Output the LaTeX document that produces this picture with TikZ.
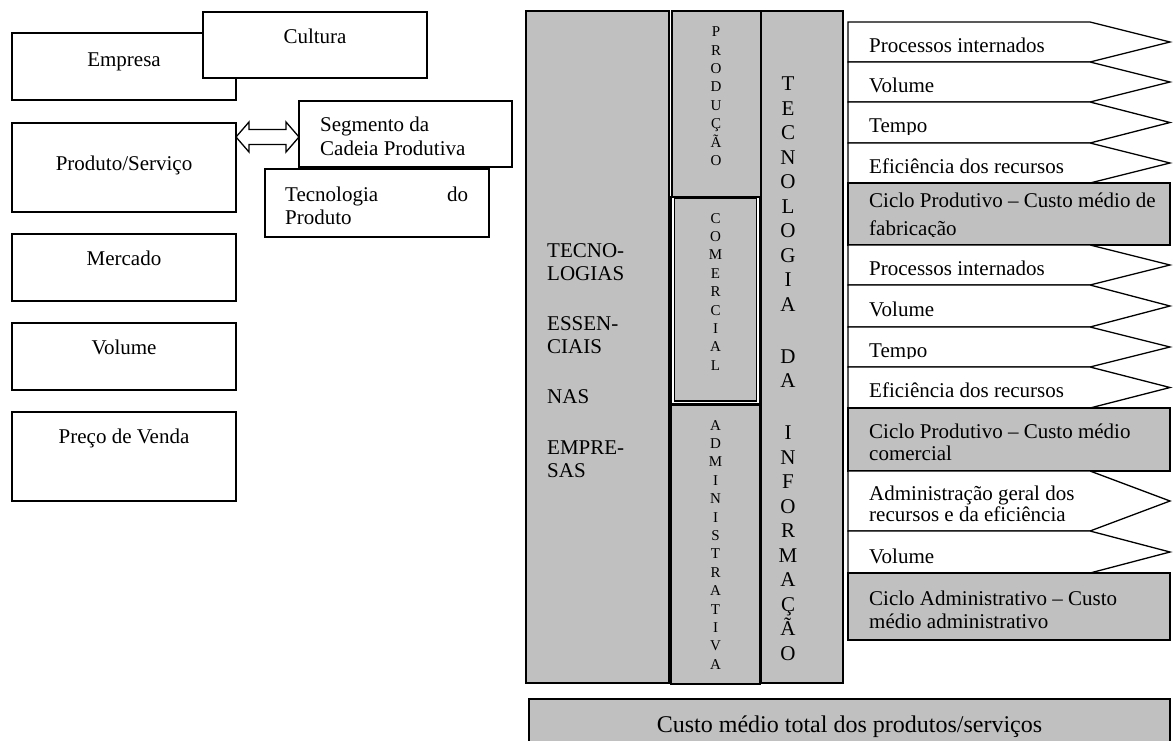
\documentclass[tikz,border=0pt]{standalone}
\usepackage{fontspec}
\setmainfont{Liberation Serif}
\usetikzlibrary{calc}
\definecolor{boxgray}{RGB}{192,192,192}
\newcommand\chevshape[2]{\draw[chev] (848,#1) -- (1090,#1) -- (1170,{(#1+#2)/2}) -- (1090,#2) -- (848,#2) -- cycle;}
\newcommand\rowclip[2]{\clip (846,#1) rectangle (1172,{#2-9});}
\begin{document}
\begin{tikzpicture}[x=1pt,y=-1pt,
  lbox/.style={draw=black,line width=1.6pt,fill=white,anchor=north west,inner sep=0pt,outer sep=0pt},
  colbox/.style={draw=black,line width=1.8pt,fill=boxgray},
  chev/.style={draw=black,line width=1.3pt,fill=white,line join=miter},
  gcell/.style={draw=black,line width=1.5pt,fill=boxgray},
  lbl/.style={font=\fontsize{21}{24}\selectfont,inner sep=0pt,anchor=base},
  lblw/.style={font=\fontsize{21}{24}\selectfont,inner sep=0pt,anchor=base west},
  vsmall/.style={font=\fontsize{15}{18.4}\selectfont,inner sep=0pt,anchor=north,align=center},
  vbig/.style={font=\fontsize{21}{24.5}\selectfont,inner sep=0pt,anchor=north,align=center},
  dblarrow/.style={draw=black,line width=1.3pt,fill=white,line join=miter}
]
\useasboundingbox (0,0) rectangle (1173,740);
\clip (0,0) rectangle (1173,740);
\fill[white] (0,0) rectangle (1173,740);

% ---------- left boxes ----------
\node[lbox,minimum width=224pt,minimum height=67pt] (empresa) at (12,33) {};
\node[lbox,minimum width=224pt,minimum height=66pt] (cultura) at (203,12) {};
\node[lbl] (empresaT) at (124,66) {Empresa};
\node[lbl] (culturaT) at (315,43) {Cultura};

\node[lbox,minimum width=224pt,minimum height=89pt] (produto) at (12,123) {};
\node[lbl] (produtoT) at (124,170) {Produto/Serviço};

\node[lbox,minimum width=213pt,minimum height=66pt] (segmento) at (299,101) {};
\node[lblw] (segT1) at (320,131) {Segmento da};
\node[lblw] (segT2) at (320,155) {Cadeia Produtiva};

\node[lbox,minimum width=224pt,minimum height=68pt] (tecprod) at (265,169) {};
\node[lblw] (tecT1) at (285,201) {\makebox[183pt]{Tecnologia\hfill do}};
\node[lblw] (tecT2) at (285,224) {Produto};

\node[lbox,minimum width=224pt,minimum height=67pt] (mercado) at (12,234) {};
\node[lbl] (mercadoT) at (124,265) {Mercado};
\node[lbox,minimum width=224pt,minimum height=67pt] (volume) at (12,323) {};
\node[lbl] (volumeT) at (124,354) {Volume};
\node[lbox,minimum width=224pt,minimum height=89pt] (preco) at (12,412) {};
\node[lbl] (precoT) at (124,443) {Preço de Venda};

% double arrow between Produto/Servico and Segmento
\coordinate (aL) at ($(produto.north east)+(0,14)$);
\coordinate (aR) at ($(segmento.north west)+(0,36)$);
\draw[dblarrow] (aL) -- ++(13,-15) -- ++(0,7.5) -- ($(aR)+(-13,-7.5)$) -- ++(0,-7.5)
  -- (aR) -- ++(-13,15) -- ++(0,-7.5) -- ($(aL)+(13,7.5)$) -- ++(0,7.5) -- cycle;

% ---------- gray columns ----------
\draw[colbox] (526,11) rectangle (669,683);
\draw[colbox] (761,11) rectangle (843,683);
\draw[colbox] (672,11) rectangle (761,197);
\draw[draw=black,line width=1.6pt,fill=white] (671,197) rectangle (760,404);
\draw[draw=black,line width=1.2pt,fill=boxgray] (674.5,198.5) rectangle (756.5,401);
\draw[colbox,line width=2pt] (671,405) rectangle (760,684);

\node[font=\fontsize{21}{23}\selectfont,inner sep=0pt,anchor=north west,align=left] (tecess) at (547,243)
  {TECNO-\\LOGIAS\\[27pt]ESSEN-\\CIAIS\\[27pt]NAS\\[28pt]EMPRE-\\SAS};
\node[vsmall] (prodV) at (716,26.7) {P\\R\\O\\D\\U\\Ç\\Ã\\O};
\node[vsmall] (comV) at (715.5,213) {C\\O\\M\\E\\R\\C\\I\\A\\L};
\node[vsmall] (admV) at (715.5,420) {A\\D\\M\\I\\N\\I\\S\\T\\R\\A\\T\\I\\V\\A};
\node[vbig] (tiV) at (788,77) {T\\E\\C\\N\\O\\L\\O\\G\\I\\A\\[27.5pt]D\\A\\[27.5pt]I\\N\\F\\O\\R\\M\\A\\Ç\\Ã\\O};

% ---------- right rows ----------
\chevshape{22}{62}
\begin{scope}\rowclip{22}{62}\node[lblw] (r1) at (869,52) {Processos internados};\end{scope}
\chevshape{62}{102}
\begin{scope}\rowclip{62}{102}\node[lblw] (r2) at (869,92) {Volume};\end{scope}
\chevshape{102}{143}
\begin{scope}\rowclip{102}{143}\node[lblw] (r3) at (869,132) {Tempo};\end{scope}
\chevshape{143}{183}
\begin{scope}\rowclip{143}{183}\node[lblw] (r4) at (869,173) {Eficiência dos recursos};\end{scope}
\draw[gcell] (848,183) rectangle (1170,245);
\begin{scope}\rowclip{183}{245}
  \node[lblw] (r5a) at (869,207) {Ciclo Produtivo – Custo médio de};
  \node[lblw] (r5b) at (869,235) {fabricação};\end{scope}
\chevshape{245}{285}
\begin{scope}\rowclip{245}{285}\node[lblw] (r6) at (869,275) {Processos internados};\end{scope}
\chevshape{285}{327}
\begin{scope}\rowclip{285}{327}\node[lblw] (r7) at (869,316) {Volume};\end{scope}
\chevshape{327}{367}
\begin{scope}\rowclip{327}{367}\node[lblw] (r8) at (869,357) {Tempo};\end{scope}
\chevshape{367}{408}
\begin{scope}\rowclip{367}{408}\node[lblw] (r9) at (869,397) {Eficiência dos recursos};\end{scope}
\draw[gcell] (848,408) rectangle (1170,471);
\begin{scope}\rowclip{408}{471}
  \node[lblw] (r10a) at (869,438) {Ciclo Produtivo – Custo médio};
  \node[lblw] (r10b) at (869,460) {comercial};\end{scope}
\chevshape{471}{531}
\begin{scope}\rowclip{471}{531}
  \node[lblw] (r11a) at (869,500) {Administração geral dos};
  \node[lblw] (r11b) at (869,521) {recursos e da eficiência};\end{scope}
\chevshape{531}{573}
\begin{scope}\rowclip{531}{573}\node[lblw] (r12) at (869,563) {Volume};\end{scope}
\draw[gcell] (848,573) rectangle (1170,640);
\begin{scope}\rowclip{573}{640}
  \node[lblw] (r13a) at (869,605) {Ciclo Administrativo – Custo};
  \node[lblw] (r13b) at (869,628) {médio administrativo};\end{scope}

% ---------- bottom total ----------
\draw[gcell] (529,699) rectangle (1170,750);
\node[font=\fontsize{24}{28}\selectfont,inner sep=0pt,anchor=base] (total) at (849.5,732) {Custo médio total dos produtos/serviços};
\end{tikzpicture}
\end{document}
